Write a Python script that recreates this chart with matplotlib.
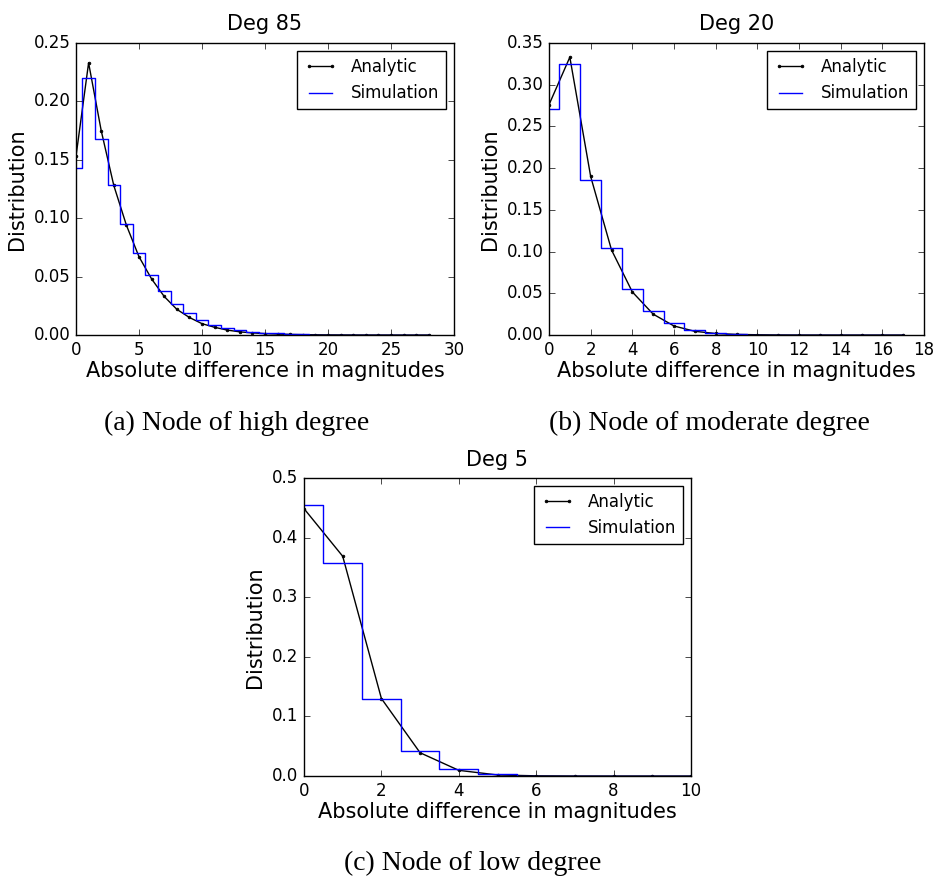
import numpy as np
import matplotlib
matplotlib.use("Agg")
import matplotlib.pyplot as plt

# Deg 85 (node of high degree)
a_x = list(range(29))
a_analytic = [0.153, 0.233, 0.175, 0.128, 0.094, 0.067, 0.048, 0.033, 0.022, 0.015,
              0.0097, 0.0066, 0.0042, 0.0027, 0.0018, 0.0012, 0.0008, 0.0005, 0.0003, 0.0002,
              0.00012, 0.00008, 0.00005, 0.00003, 0.00002, 0.00001, 0.00001, 0.0, 0.0]
a_sim = [0.143, 0.220, 0.1675, 0.128, 0.095, 0.0705, 0.0514, 0.0374, 0.0263, 0.0186,
         0.0128, 0.0086, 0.006, 0.004, 0.0028, 0.0019, 0.0013, 0.0008, 0.0005, 0.0003,
         0.0002, 0.0001, 0.0001, 0.00005, 0.00003, 0.00002, 0.00001, 0.0, 0.0]

# Deg 20 (node of moderate degree)
b_x = list(range(18))
b_analytic = [0.276, 0.333, 0.190, 0.102, 0.0516, 0.025, 0.0108, 0.0044, 0.0018, 0.0007,
              0.0003, 0.0001, 0.00004, 0.00002, 0.0, 0.0, 0.0, 0.0]
b_sim = [0.2706, 0.325, 0.186, 0.104, 0.0555, 0.0288, 0.0148, 0.006, 0.0025, 0.001,
         0.0004, 0.0002, 0.0001, 0.00003, 0.0, 0.0, 0.0, 0.0]

# Deg 5 (node of low degree)
c_x = list(range(11))
c_analytic = [0.4486, 0.3687, 0.130, 0.039, 0.0095, 0.0017, 0.0003, 0.00005, 0.0, 0.0, 0.0]
c_sim = [0.4547, 0.3575, 0.1285, 0.0424, 0.0125, 0.0034, 0.0007, 0.0001, 0.0, 0.0, 0.0]

captions = ['(a) Node of high degree', '(b) Node of moderate degree', '(c) Node of low degree']

plt.style.use('classic')
plt.rcParams['figure.facecolor'] = 'white'
plt.rcParams['font.family'] = 'DejaVu Sans'
plt.rcParams['font.size'] = 12

fig = plt.figure(figsize=(9.41, 8.77), dpi=100)
W, H = 941.0, 877.0


def panel(rect, x, analytic, sim, title, xmax, xstep, ymax, ystep, yfmt):
    l, t, r, b = rect
    ax = fig.add_axes([l / W, 1 - b / H, (r - l) / W, (b - t) / H])
    ax.plot(x, analytic, 'k.-', markersize=4, linewidth=1, label='Analytic')
    ax.step(x, sim, 'b-', where='mid', linewidth=1, label='Simulation')
    ax.set_xlim(0, xmax)
    ax.set_ylim(0, ymax)
    ax.set_xticks(np.arange(0, xmax + 0.01, xstep))
    yt = np.arange(0, ymax + 0.001, ystep)
    ax.set_yticks(yt)
    ax.set_yticklabels([yfmt % v for v in yt])
    ax.set_title(title, fontsize=15, pad=9)
    ax.set_xlabel('Absolute difference in magnitudes', fontsize=15, labelpad=2)
    ax.set_ylabel('Distribution', fontsize=15)
    ax.tick_params(labelsize=12)
    ax.legend(loc='upper right', fontsize=12, numpoints=2)
    return ax


panel((76, 43, 454, 335), a_x, a_analytic, a_sim, 'Deg 85', 30, 5, 0.25, 0.05, '%.2f')
panel((549, 43, 924, 335), b_x, b_analytic, b_sim, 'Deg 20', 18, 2, 0.35, 0.05, '%.2f')
panel((304, 478, 691, 776), c_x, c_analytic, c_sim, 'Deg 5', 10, 2, 0.5, 0.1, '%.1f')

cap = dict(family='Liberation Serif', fontsize=20, ha='center', va='baseline')
fig.text(237 / W, 1 - 430 / H, captions[0], **cap)
fig.text(709 / W, 1 - 430 / H, captions[1], **cap)
fig.text(473 / W, 1 - 870 / H, captions[2], **cap)

fig.savefig('out.png', dpi=100)
